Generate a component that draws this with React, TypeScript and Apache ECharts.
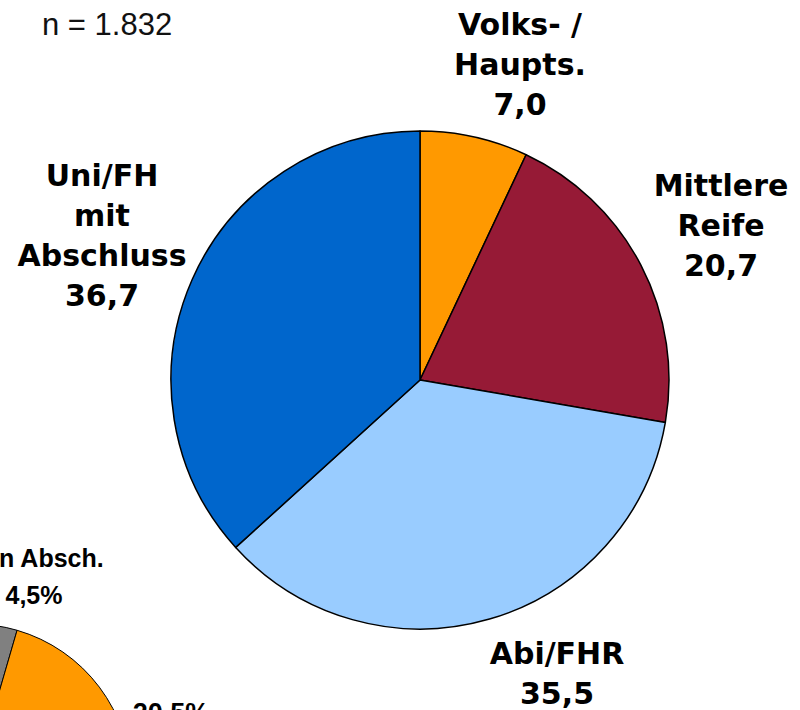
import React, { useEffect, useRef } from "react";
import * as echarts from "echarts";

// Main pie (current sample)
const mainNames = ["Volks- /\nHaupts.", "Mittlere\nReife", "Abi/FHR", "Uni/FH\nmit\nAbschluss"];
const mainValues = [7.0, 20.7, 35.5, 36.7];
const mainColors = ["#FF9900", "#961A36", "#99CCFF", "#0066CC"];
// label anchor positions (layout only)
const mainLabelPos = [
  [520, 64],
  [721, 225],
  [557, 673],
  [102, 235],
];

// Second (comparison) pie, mostly cut off at the bottom-left
const compNames = ["kein Absch.", "Volks-/Haupts.", "Mittlere Reife", "Abi/FHR", "Uni/FH"];
const compValues = [4.5, 20.5, 30.0, 21.0, 24.0];
const compColors = ["#808080", "#FF9900", "#961A36", "#99CCFF", "#0066CC"];
const compLabelShown = [true, true, false, false, false];
const compLabelText = ["kein Absch.\n4,5%", "20,5%", "", "", ""];
const compLabelSize = [25, 27, 25, 25, 25];
const compLabelPos = [
  [34, 576],
  [171, 713],
  [0, 0],
  [0, 0],
  [0, 0],
];

const sampleText = "n = 1.832";

const fmt = (v: number) => v.toFixed(1).replace(".", ",");

export default function App() {
  const ref = useRef<HTMLDivElement>(null);
  useEffect(() => {
    if (!ref.current) return;
    const chart = echarts.init(ref.current, undefined, { renderer: "svg" });
    chart.setOption({
      animation: false,
      backgroundColor: "#ffffff",
      graphic: [
        {
          type: "text",
          x: 42,
          y: 24.5,
          style: {
            text: sampleText,
            font: "31px 'Liberation Sans'",
            fill: "#111",
            verticalAlign: "middle",
            align: "left",
          },
        },
      ],
      series: [
        {
          type: "pie",
          center: [-27, 782],
          radius: 158,
          startAngle: 90,
          clockwise: true,
          silent: true,
          itemStyle: { borderColor: "#000", borderWidth: 1 },
          label: {
            position: "inside",
            color: "#000",
            fontFamily: "Liberation Sans",
            fontWeight: "bold",
            fontSize: 25,
            lineHeight: 37,
            align: "center",
          },
          labelLine: { show: false },
          labelLayout: (p: any) => ({
            x: compLabelPos[p.dataIndex][0],
            y: compLabelPos[p.dataIndex][1],
            align: "center",
            verticalAlign: "middle",
          }),
          data: compValues.map((v, i) => ({
            name: compNames[i],
            value: v,
            itemStyle: { color: compColors[i] },
            label: {
              show: compLabelShown[i],
              formatter: compLabelText[i],
              fontSize: compLabelSize[i],
            },
          })),
        },
        {
          type: "pie",
          center: [420, 380],
          radius: 249,
          startAngle: 90,
          clockwise: true,
          silent: true,
          itemStyle: { borderColor: "#000", borderWidth: 1.5 },
          label: {
            position: "inside",
            color: "#000",
            fontFamily: "DejaVu Sans",
            fontWeight: "bold",
            fontSize: 30,
            lineHeight: 40,
            align: "center",
            formatter: (p: any) => `${mainNames[p.dataIndex]}\n${fmt(mainValues[p.dataIndex])}`,
          },
          labelLine: { show: false },
          labelLayout: (p: any) => ({
            x: mainLabelPos[p.dataIndex][0],
            y: mainLabelPos[p.dataIndex][1],
            align: "center",
            verticalAlign: "middle",
          }),
          data: mainValues.map((v, i) => ({
            name: mainNames[i],
            value: v,
            itemStyle: { color: mainColors[i] },
          })),
        },
      ],
    });
    return () => chart.dispose();
  }, []);
  return (
    <div
      ref={ref}
      style={{ position: "absolute", left: 0, top: 0, width: 800, height: 710 }}
    />
  );
}
